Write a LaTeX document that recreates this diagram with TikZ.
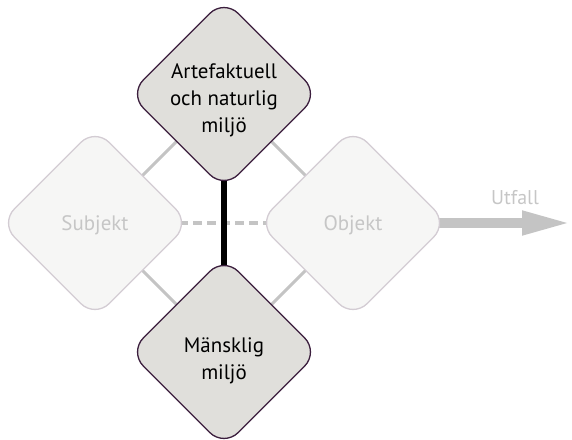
\documentclass[tikz,border=0pt]{standalone}
\usepackage{fontspec}
\setmainfont{PT Sans}
\usetikzlibrary{shapes.geometric,arrows.meta,backgrounds}
\definecolor{D}{RGB}{224,223,219}
\definecolor{P}{RGB}{59,30,61}
\definecolor{L}{RGB}{246,246,245}
\definecolor{LB}{RGB}{211,204,211}
\definecolor{T}{RGB}{198,198,198}
\definecolor{G}{RGB}{196,196,196}

\begin{document}
\begin{tikzpicture}[x=1bp, y=-1bp,
    env/.style={diamond, aspect=1, minimum size=190bp, inner sep=0pt, rounded corners=20bp,
      fill=D, draw=P, line width=1.3bp},
    faded/.style={env, fill=L, draw=LB},
    lbl/.style={align=center, inner sep=0pt, font=\fontsize{21}{27}\selectfont},
    link/.style={G, line width=3bp}]
  \useasboundingbox (0,0) rectangle (572,440);
  \node[env] (nat) at (224,94) {};
  \node[env] (hum) at (224,352) {};
  \node[faded] (subj) at (95,223) {};
  \node[faded] (obj) at (353,223) {};
  \node[lbl] (natlbl) at ([yshift=-6bp]nat.center) {Artefaktuell\\och naturlig\\milj\"o};
  \node[lbl] (humlbl) at ([yshift=-9bp]hum.center) {M\"ansklig\\milj\"o};
  \node[lbl, T] (subjlbl) at ([yshift=-2bp]subj.center) {Subjekt};
  \node[lbl, T] (objlbl) at ([yshift=-2bp]obj.center) {Objekt};
  \coordinate (out) at (572,223);
  \node[lbl, T, font=\fontsize{20}{24}\selectfont] (utf) at (515,198) {Utfall};
  \begin{scope}[on background layer]
    \draw[link] (nat.center) -- (subj.center) -- (hum.center) -- (obj.center) -- cycle;
    \draw[G, line width=4bp, dash pattern=on 9bp off 5bp] (subj.center) -- (obj.center);
    \draw[black, line width=6bp] (nat.center) -- (hum.center);
    \draw[G, line width=10bp, -{Triangle[length=50bp, width=22bp]}] (obj.center) -- (out);
  \end{scope}
\end{tikzpicture}
\end{document}
